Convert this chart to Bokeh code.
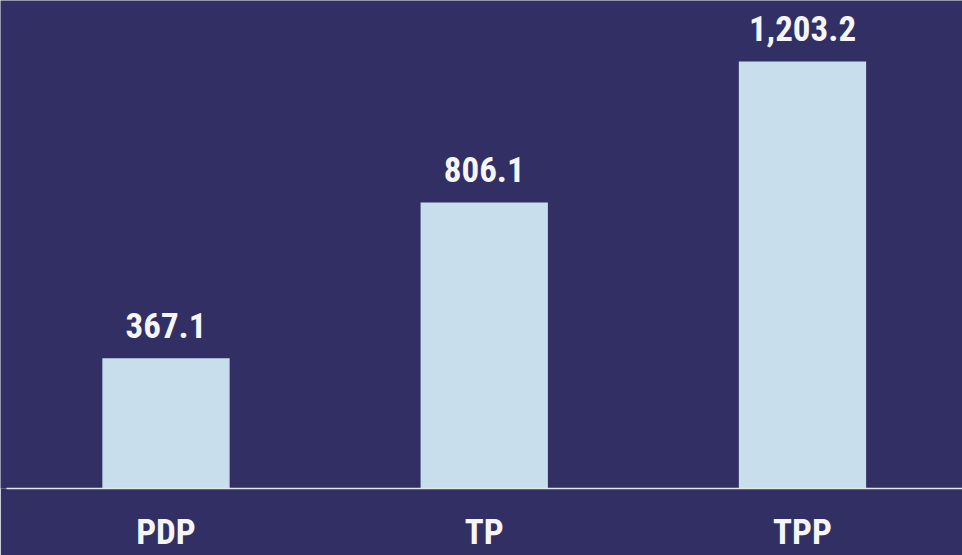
from bokeh.plotting import figure
from bokeh.models import Range1d, FixedTicker, ColumnDataSource
from bokeh.core.properties import value
from bokeh.embed import file_html
from bokeh.resources import INLINE

categories = ["PDP", "TP", "TPP"]
values = [367.1, 806.1, 1203.2]
value_labels = ["367.1", "806.1", "1,203.2"]

BG = "#312F63"
BAR = "#C9DEEC"
TXT = "#F6F6FA"
FONT = "Roboto Condensed, Arial Narrow, Roboto"

xs = list(range(len(categories)))
src = ColumnDataSource(dict(x=xs, top=values, label=value_labels))

p = figure(width=962, height=555, output_backend="svg", toolbar_location=None,
           x_range=Range1d(-0.52, 2.5028), y_range=Range1d(0, 1375.0),
           background_fill_color=BG, border_fill_color=BG,
           min_border_left=0, min_border_right=0, min_border_top=0, min_border_bottom=67)
p.outline_line_color = None
p.grid.visible = False
p.yaxis.visible = False

p.vbar(x="x", top="top", width=0.4, bottom=0, source=src, fill_color=BAR, line_color=None)
p.text(x="x", y="top", text="label", source=src, y_offset=-20,
       text_align="center", text_baseline="bottom",
       text_font=value(FONT), text_font_style="bold", text_font_size="35px",
       text_color=TXT)

ax = p.xaxis[0]
ax.ticker = FixedTicker(ticks=xs)
ax.bounds = (-0.501, 2.5028)
ax.major_label_overrides = {i: c for i, c in enumerate(categories)}
ax.major_tick_line_color = None
ax.minor_tick_line_color = None
ax.axis_line_color = "#E3EAE2"
ax.axis_line_width = 1.5
ax.major_label_standoff = 17
ax.major_label_text_font = FONT
ax.major_label_text_font_style = "bold"
ax.major_label_text_font_size = "35px"
ax.major_label_text_color = TXT

html = file_html(p, INLINE)
html = html.replace("<body>", '<body style="background-color:%s">' % BG, 1)
open("out.html", "w").write(html)
